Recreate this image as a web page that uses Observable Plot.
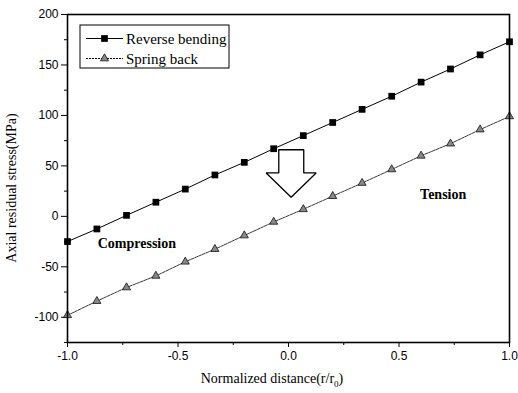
<!DOCTYPE html>
<html>
<head>
<meta charset="utf-8">
<script src="https://cdn.jsdelivr.net/npm/d3@7"></script>
<script src="https://cdn.jsdelivr.net/npm/@observablehq/plot@0.6"></script>
<style>
  html, body { margin: 0; padding: 0; background: white; }
  #chart { width: 518px; height: 393px; }
</style>
</head>
<body>
<div id="chart"></div>
<script>
// Data
const xPos = [-1.0, -0.867, -0.733, -0.6, -0.467, -0.333, -0.2, -0.067, 0.067, 0.2, 0.333, 0.467, 0.6, 0.733, 0.867, 1.0];
const reverseBending = [-25, -12.5, 1, 14, 27, 41, 53.5, 67, 80, 93, 106, 119, 133, 146, 160, 173];
const springBack = [-98, -84, -70.5, -59, -45, -32.5, -19, -5.5, 7, 20, 33, 46.5, 60, 72, 86, 99];
const seriesNames = ["Reverse bending", "Spring back"];
const xTicks = [-1.0, -0.5, 0.0, 0.5, 1.0];
const xMinor = [-0.75, -0.25, 0.25, 0.75];
const yTicks = [-100, -50, 0, 50, 100, 150, 200];
const yMinor = [-125, -75, -25, 25, 75, 125, 175];
// hollow arrow annotation (data coordinates)
const arrowX = [-0.044, 0.069, 0.069, 0.125, 0.012, -0.101, -0.044, -0.044];
const arrowY = [66, 66, 43, 43, 19, 43, 43, 66];
const annotations = [
  {text: "Compression", x: -0.686, y: -27},
  {text: "Tension", x: 0.70, y: 22}
];

const rb = xPos.map((x, i) => ({x, y: reverseBending[i]}));
const sb = xPos.map((x, i) => ({x, y: springBack[i]}));
const arrow = arrowX.map((x, i) => ({x, y: arrowY[i]}));

const serif = "'Liberation Serif', 'Times New Roman', serif";

const plot = Plot.plot({
  width: 518,
  height: 393,
  marginLeft: 67,
  marginRight: 9,
  marginTop: 14,
  marginBottom: 51,
  style: {fontFamily: "'Liberation Sans', Arial, sans-serif", fontSize: "12px", background: "white", color: "black"},
  x: {domain: [-1, 1]},
  y: {domain: [-125, 200]},
  marks: [
    Plot.axisX({ticks: xTicks, tickSize: 5, tickPadding: 4, tickFormat: d => d.toFixed(1), label: null, fontSize: 12}),
    Plot.axisX({ticks: xMinor, tickSize: 3, tickFormat: () => "", label: null}),
    Plot.axisY({ticks: yTicks, tickSize: 6, tickPadding: 3, tickFormat: d => String(d), label: null, fontSize: 12}),
    Plot.axisY({ticks: yMinor, tickSize: 3, tickFormat: () => "", label: null}),
    Plot.line(rb, {x: "x", y: "y", stroke: "black", strokeWidth: 1}),
    Plot.line(sb, {x: "x", y: "y", stroke: "#222", strokeWidth: 0.9, strokeDasharray: "3,1"}),
    Plot.dot(rb, {x: "x", y: "y", symbol: "square", r: 3.8, fill: "black", stroke: "none"}),
    Plot.dot(sb, {x: "x", y: "y", symbol: "triangle", r: 3, fill: "#888", stroke: "#111", strokeWidth: 0.8}),
    Plot.line(arrow, {x: "x", y: "y", stroke: "black", strokeWidth: 1.3, fill: "white", strokeLinejoin: "miter"}),
    Plot.text(annotations, {x: "x", y: "y", text: "text", fontWeight: "bold", fontSize: 14, fontFamily: serif, fill: "black"}),
    Plot.frame({stroke: "black", strokeWidth: 1.6})
  ]
});

document.getElementById("chart").appendChild(plot);

// Legend and axis titles, added in pixel space
const svg = d3.select(plot);
const lg = svg.append("g");
lg.append("rect").attr("x", 80).attr("y", 25).attr("width", 149).attr("height", 43)
  .attr("fill", "white").attr("stroke", "black").attr("stroke-width", 1);
const entries = [
  {name: seriesNames[0], y: 38.5, dash: null, sym: d3.symbolSquare, size: Math.PI * 3.8 * 3.8, fill: "black", stroke: "none"},
  {name: seriesNames[1], y: 58.5, dash: "2,1", sym: d3.symbolTriangle, size: Math.PI * 9, fill: "#888", stroke: "#111"}
];
for (const e of entries) {
  lg.append("line").attr("x1", 86).attr("x2", 123).attr("y1", e.y).attr("y2", e.y)
    .attr("stroke", "black").attr("stroke-width", 1).attr("stroke-dasharray", e.dash);
  lg.append("path").attr("d", d3.symbol(e.sym, e.size)()).attr("transform", `translate(104.5,${e.y})`)
    .attr("fill", e.fill).attr("stroke", e.stroke).attr("stroke-width", 0.8);
  lg.append("text").attr("x", 126).attr("y", e.y).attr("dy", "0.35em").attr("text-anchor", "start")
    .attr("font-family", serif).attr("font-size", 15).attr("fill", "black").text(e.name);
}

const xl = svg.append("text").attr("x", 272).attr("y", 383).attr("text-anchor", "middle")
  .attr("font-family", serif).attr("font-size", 14).attr("fill", "black");
xl.append("tspan").text("Normalized distance(r/r");
xl.append("tspan").attr("font-size", 9).attr("dy", 4).text("0");
xl.append("tspan").attr("dy", -4).text(")");

svg.append("text").attr("transform", "translate(16,188) rotate(-90)").attr("text-anchor", "middle")
  .attr("font-family", serif).attr("font-size", 14).attr("fill", "black")
  .text("Axial residual stress(MPa)");
</script>
</body>
</html>
